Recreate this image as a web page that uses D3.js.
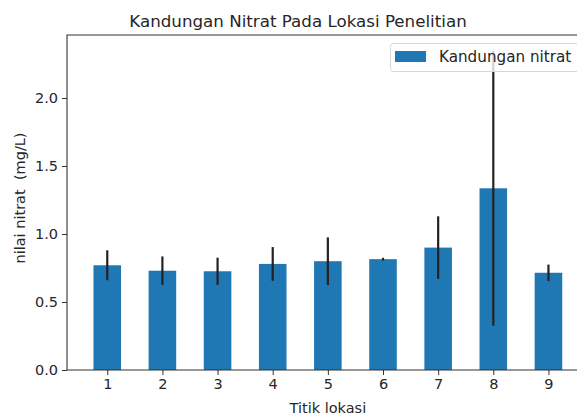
<!DOCTYPE html>
<html>
<head>
<meta charset="utf-8">
<script src="https://cdn.jsdelivr.net/npm/d3@7"></script>
<style>
  html, body { margin: 0; padding: 0; background: #fff; }
  svg { display: block; }
  text { font-family: "DejaVu Sans", sans-serif; fill: #262626; }
</style>
</head>
<body>
<svg id="chart" width="577" height="414"></svg>
<script>
// Nitrate content per sampling point (mean and error)
const locations = ["1", "2", "3", "4", "5", "6", "7", "8", "9"];
const nitrate = [0.77, 0.73, 0.726, 0.78, 0.80, 0.815, 0.90, 1.336, 0.715];
const nitrateErr = [0.11, 0.105, 0.10, 0.124, 0.175, 0.01, 0.23, 1.01, 0.06];
const yTicks = [0.0, 0.5, 1.0, 1.5, 2.0];

const titleText = "Kandungan Nitrat Pada Lokasi Penelitian";
const xLabel = "Titik lokasi";
const yLabel = "nilai nitrat  (mg/L)";
const legendLabel = "Kandungan nitrat";

const svg = d3.select("#chart");
const barColor = "#1f77b4";

// plot frame
const plotLeft = 67, plotTop = 35, plotBottom = 370;
const step = 55.15;
const xPad = 0.73;
const x = d3.scaleLinear()
  .domain([-xPad, locations.length - 1 + xPad])
  .range([plotLeft, plotLeft + (locations.length - 1 + 2 * xPad) * step]);
const yMax = d3.max(nitrate.map((v, i) => v + nitrateErr[i])) * 1.05;
const y = d3.scaleLinear().domain([0, yMax]).range([plotBottom, plotTop]);
const barW = 0.5;

// bars
svg.append("g").selectAll("rect")
  .data(nitrate)
  .join("rect")
  .attr("x", (d, i) => x(i - barW / 2))
  .attr("width", x(barW) - x(0))
  .attr("y", d => y(d))
  .attr("height", d => y(0) - y(d))
  .attr("fill", barColor);

// error bars
svg.append("g").selectAll("line")
  .data(nitrate)
  .join("line")
  .attr("x1", (d, i) => x(i))
  .attr("x2", (d, i) => x(i))
  .attr("y1", (d, i) => y(d - nitrateErr[i]))
  .attr("y2", (d, i) => y(d + nitrateErr[i]))
  .attr("stroke", "#222")
  .attr("stroke-width", 2.2);

// axes
const yAxis = d3.axisLeft(y).tickValues(yTicks).tickFormat(d3.format(".1f")).tickSize(5).tickPadding(4);
const xAxis = d3.axisBottom(x).tickValues(d3.range(locations.length))
  .tickFormat(i => locations[i]).tickSize(5).tickPadding(4);

const gy = svg.append("g").attr("transform", `translate(${plotLeft},0)`).call(yAxis);
const gx = svg.append("g").attr("transform", `translate(0,${plotBottom})`).call(xAxis);
[gx, gy].forEach(g => {
  g.select(".domain").remove();
  g.selectAll(".tick line").attr("stroke", "#333").attr("stroke-width", 1);
  g.selectAll(".tick text").attr("fill", "#262626")
    .style("font-family", "DejaVu Sans, sans-serif").style("font-size", "14.5px");
});

// spines (left, top, bottom)
const xRight = x.range()[1];
svg.append("path")
  .attr("d", `M${xRight},${plotTop}H${plotLeft}V${plotBottom}H${xRight}`)
  .attr("fill", "none").attr("stroke", "#333").attr("stroke-width", 1.1);

// title and axis labels
svg.append("text").attr("x", 298).attr("y", 27).attr("text-anchor", "middle")
  .style("font-size", "16.7px").text(titleText);
svg.append("text").attr("x", (plotLeft + xRight) / 2).attr("y", 413).attr("text-anchor", "middle")
  .style("font-size", "14.5px").text(xLabel);
svg.append("text").attr("transform", `translate(25,198) rotate(-90)`)
  .attr("text-anchor", "middle").style("font-size", "14.5px")
  .style("white-space", "pre").text(yLabel);

// legend
const lg = svg.append("g");
lg.append("rect").attr("x", 390.5).attr("y", 43.5).attr("width", 200).attr("height", 28)
  .attr("rx", 3).attr("fill", "#fff").attr("fill-opacity", 0.8)
  .attr("stroke", "#d6d6d6").attr("stroke-width", 1);
lg.append("rect").attr("x", 395).attr("y", 51).attr("width", 31).attr("height", 11).attr("fill", barColor);
lg.append("text").attr("x", 439).attr("y", 62).style("font-size", "15.2px").text(legendLabel);
</script>
</body>
</html>
